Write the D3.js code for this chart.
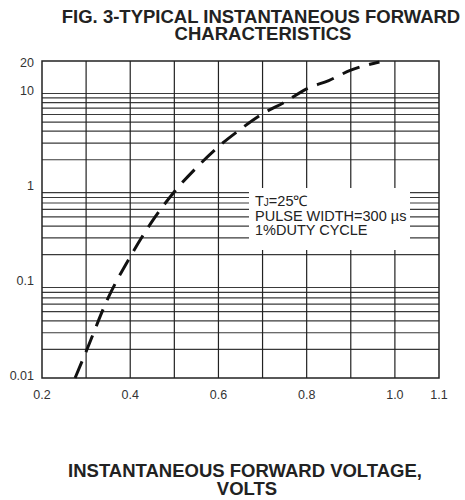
<!DOCTYPE html>
<html>
<head>
<meta charset="utf-8">
<script src="https://cdn.jsdelivr.net/npm/d3@7"></script>
<style>
  body { margin: 0; background: #fff; }
  svg { display: block; font-family: 'Liberation Sans', Arial, sans-serif; }
</style>
</head>
<body>
<div id="chart"></div>
<script>
// forward voltage (V) vs forward current (A)
const voltage = [0.275, 0.30, 0.35, 0.40, 0.45, 0.50, 0.55, 0.60, 0.65, 0.70, 0.75, 0.80, 0.85, 0.90, 0.965]
const current = [0.01, 0.019, 0.07, 0.19, 0.45, 0.92, 1.65, 2.75, 4.2, 6.1, 8.1, 11.2, 13.7, 17.6, 21.5]

const xTicks = [0.2, 0.4, 0.6, 0.8, 1.0, 1.1]
const xGrid = [0.3, 0.4, 0.5, 0.6, 0.7, 0.8, 0.9, 1.0]
const yTicks = [0.01, 0.1, 1, 10, 20]
const yGrid = [2, 3, 4, 5, 6, 7, 8, 9].flatMap(m => [0.01 * m, 0.1 * m, m]).concat([10])

const noteLines = ['PULSE WIDTH=300 \u00b5s', '1%DUTY CYCLE']

const width = 465
const height = 500

const x = d3.scaleLinear().domain([0.2, 1.1]).range([42, 439])
const y = d3.scaleLog().domain([0.01, 22]).range([378, 61])

const svg = d3.select('#chart')
  .append('svg')
  .attr('width', width)
  .attr('height', height)

const bold = (txt, cx, cy) =>
  svg.append('text')
    .attr('x', cx)
    .attr('y', cy)
    .attr('text-anchor', 'middle')
    .attr('font-size', '18.5px')
    .attr('font-weight', 'bold')
    .attr('fill', '#222')
    .text(txt)

bold('FIG. 3-TYPICAL INSTANTANEOUS FORWARD', 261, 22.5)
bold('CHARACTERISTICS', 263, 40)

const grid = svg.append('g')

grid.selectAll('.hline')
  .data(yGrid)
  .enter()
  .append('line')
    .attr('x1', x.range()[0])
    .attr('x2', x.range()[1])
    .attr('y1', d => y(d))
    .attr('y2', d => y(d))
    .attr('stroke', '#3a3a3a')
    .attr('stroke-width', 1.2)

grid.selectAll('.vline')
  .data(xGrid)
  .enter()
  .append('line')
    .attr('x1', d => x(d))
    .attr('x2', d => x(d))
    .attr('y1', y.range()[0])
    .attr('y2', y.range()[1])
    .attr('stroke', '#222')
    .attr('stroke-width', 1.2)

svg.append('rect')
  .attr('x', x.range()[0])
  .attr('y', y.range()[1])
  .attr('width', x.range()[1] - x.range()[0])
  .attr('height', y.range()[0] - y.range()[1])
  .attr('fill', 'none')
  .attr('stroke', '#222')
  .attr('stroke-width', 1.5)

// note box blanks out the grid behind it
svg.append('rect')
  .attr('x', 249)
  .attr('y', 188)
  .attr('width', 161)
  .attr('height', 62)
  .attr('fill', '#fff')

const note = svg.append('g')
  .attr('font-size', '14.5px')
  .attr('fill', '#222')

const tj = note.append('text')
  .attr('x', 255)
  .attr('y', 205.5)
tj.append('tspan').text('T')
tj.append('tspan').attr('font-size', '10px').text('J')
tj.append('tspan').text('=25\u2103')

note.selectAll('.line')
  .data(noteLines)
  .enter()
  .append('text')
    .attr('x', 255)
    .attr('y', (d, i) => 220.5 + i * 14.5)
    .text(d => d)

const line = d3.line()
  .x(d => x(d[0]))
  .y(d => y(d[1]))
  .curve(d3.curveMonotoneX)

svg.append('path')
  .datum(d3.zip(voltage, current))
  .attr('d', line)
  .attr('fill', 'none')
  .attr('stroke', '#111')
  .attr('stroke-width', 3)
  .attr('stroke-dasharray', '18,10')

svg.selectAll('.ylab')
  .data(yTicks)
  .enter()
  .append('text')
    .attr('x', 34)
    .attr('y', d => y(d) + 2)
    .attr('text-anchor', 'end')
    .attr('font-size', '12.5px')
    .attr('fill', '#333')
    .text(d => d)

svg.selectAll('.xlab')
  .data(xTicks)
  .enter()
  .append('text')
    .attr('x', d => x(d))
    .attr('y', 399)
    .attr('text-anchor', 'middle')
    .attr('font-size', '12.5px')
    .attr('fill', '#333')
    .text(d => d3.format('.1f')(d))

bold('INSTANTANEOUS FORWARD VOLTAGE,', 245, 476.5)
bold('VOLTS', 247, 495)
</script>
</body>
</html>
